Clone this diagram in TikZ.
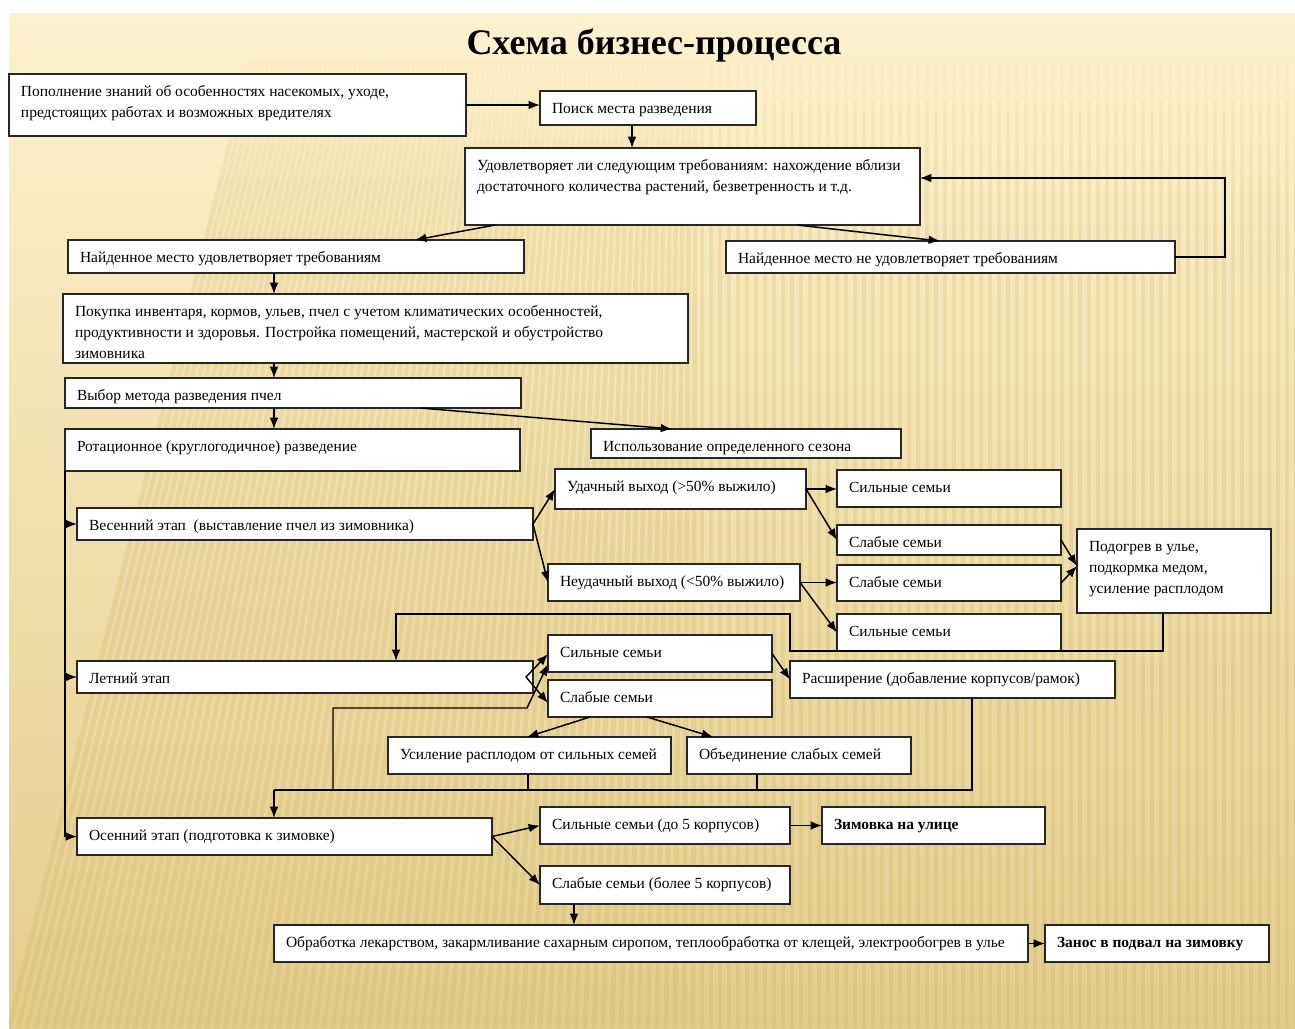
\documentclass[tikz,border=0pt]{standalone}
\usepackage{fontspec}
\setmainfont{Liberation Serif}
\usetikzlibrary{calc,arrows.meta,shadows}

\definecolor{slidetop}{HTML}{FDF2CE}
\definecolor{slidemid}{HTML}{F3E2A8}
\definecolor{slidebot}{HTML}{E3CD8C}
\definecolor{stripecol}{HTML}{C9A94E}

\tikzset{
  box/.style={draw=black!85, line width=1.2pt, fill=white, anchor=north west,
    inner xsep=9pt, inner ysep=5.5pt, outer sep=0pt,
    drop shadow={shadow xshift=1pt, shadow yshift=-1pt, opacity=0.3},
    font=\fontsize{11.6}{16}\selectfont},
  arr/.style={line width=1.1pt, -{Latex[length=8.5pt,width=6.5pt]}},
  wire/.style={line width=1.1pt},
  stripe/.style={line width=3.5pt, stripecol},
  boldtext/.style={font=\fontsize{11.6}{16}\selectfont\bfseries}
}

% \flowbox[style]{name}{x1}{y1}{x2}{y2}{text}: a box given by its corners in px
\newcommand\flowbox[7][]{%
  \pgfmathsetlengthmacro\fbw{(#5-#3)*0.75pt-18pt}%
  \pgfmathsetlengthmacro\fbh{(#6-#4)*0.75pt-11pt}%
  \node[box,#1] (#2) at (#3,#4) {\parbox[c][\fbh][t]{\fbw}{\raggedright\strut #7}};%
}

\begin{document}
\begin{tikzpicture}[x=0.75pt,y=-0.75pt]
\useasboundingbox (0,0) rectangle (1295,1028);

% slide background
\fill[white] (0,0) rectangle (1295,1028);
\shade[top color=slidetop, middle color=slidemid, bottom color=slidebot]
  (9,13) rectangle (1295,1028);

% faint stripes, fading in towards the top
\begin{scope}
  \clip (9,60) rectangle (1295,1028);
  \foreach \i in {0,...,160} {
    \pgfmathsetmacro\xb{9+9*\i}
    \pgfmathsetmacro\sl{0.35*max(0,700-\xb)/968}
    \foreach \ya/\yb/\op in {60/100/0.04, 100/140/0.08, 140/180/0.12, 180/220/0.16, 220/1028/0.19} {
      \pgfmathsetmacro\xa{\xb+\sl*(1028-\ya)}
      \pgfmathsetmacro\xc{\xb+\sl*(1028-\yb)}
      \draw[stripe, opacity=\op] (\xa,\ya) -- (\xc,\yb);
    }
  }
\end{scope}

% title
\node[font=\fontsize{27}{32}\selectfont\bfseries] (title) at (654,45) {Схема бизнес-процесса};

% boxes
\flowbox{A}{9}{74}{466}{136}{Пополнение знаний об особенностях насекомых, уходе,\\ предстоящих работах и возможных вредителях}
\flowbox{B}{540}{91}{756}{125}{Поиск места разведения}
\flowbox{C}{465}{148}{920}{225}{Удовлетворяет ли следующим требованиям: нахождение вблизи\\ достаточного количества растений, безветренность и т.д.}
\flowbox{D}{68}{240}{524}{273}{Найденное место удовлетворяет требованиям}
\flowbox{E}{726}{241}{1175}{273}{Найденное место не удовлетворяет требованиям}
\flowbox{F}{63}{294}{688}{363}{Покупка инвентаря, кормов, ульев, пчел с учетом климатических особенностей,\\ продуктивности и здоровья. Постройка помещений, мастерской и обустройство\\ зимовника}
\flowbox{G}{65}{378}{521}{408}{Выбор метода разведения пчел}
\flowbox{H}{65}{429}{520}{471}{Ротационное (круглогодичное) разведение}
\flowbox{I}{591}{429}{901}{458}{Использование определенного сезона}
\flowbox{J}{77}{508}{533}{540}{Весенний этап\ \ (выставление пчел из зимовника)}
\flowbox{K}{555}{469}{806}{509}{Удачный выход (>50\% выжило)}
\flowbox{L}{548}{564}{800}{601}{Неудачный выход (<50\% выжило)}
\flowbox{M}{837}{470}{1061}{507}{Сильные семьи}
\flowbox{N}{837}{525}{1061}{555}{Слабые семьи}
\flowbox{O}{837}{565}{1061}{601}{Слабые семьи}
\flowbox{P}{837}{614}{1061}{651}{Сильные семьи}
\flowbox{Q}{1077}{529}{1271}{613}{Подогрев в улье,\\ подкормка медом,\\ усиление расплодом}
\flowbox{R}{77}{661}{533}{693}{Летний этап}
\flowbox{S}{548}{635}{772}{672}{Сильные семьи}
\flowbox{T}{548}{680}{772}{717}{Слабые семьи}
\flowbox{U}{790}{661}{1115}{698}{Расширение (добавление корпусов/рамок)}
\flowbox{V}{388}{737}{671}{774}{Усиление расплодом от сильных семей}
\flowbox{W}{687}{737}{911}{774}{Объединение слабых семей}
\flowbox{X}{77}{818}{492}{855}{Осенний этап (подготовка к зимовке)}
\flowbox{Y}{540}{807}{790}{844}{Сильные семьи (до 5 корпусов)}
\flowbox[boldtext]{Z}{822}{807}{1045}{844}{Зимовка на улице}
\flowbox{AA}{540}{866}{790}{904}{Слабые семьи (более 5 корпусов)}
\flowbox{AB}{274}{925}{1028}{962}{Обработка лекарством, закармливание сахарным сиропом, теплообработка от клещей, электрообогрев в улье}
\flowbox[boldtext]{AC}{1045}{925}{1269}{962}{Занос в подвал на зимовку}

% search for a site
\draw[arr] (A.east) -- (A.east -| B.west);
\draw[arr] (B.south -| 632,0) -- (C.north -| 632,0);
\draw[arr] (C.south -| 495,0) -- (D.north -| 415,0);
\draw[arr] (C.south -| 797,0) -- (E.north -| 940,0);
\draw[arr] (E.east) -- (E.east -| 1225,0) |- (C.east |- 0,178);

% preparation and method choice
\draw[arr] (D.south -| 274,0) -- (F.north -| 274,0);
\draw[arr] (F.south -| 274,0) -- (G.north -| 274,0);
\draw[arr] (G.south -| 274,0) -- (H.north -| 274,0);
\draw[arr] (G.south -| 420,0) -- (I.north -| 672,0);

% season bus
\draw[wire] (H.south west) -- (H.south west |- X.west);
\draw[arr] (H.south west |- J.west) -- (J.west);
\draw[arr] (H.south west |- R.west) -- (R.west);
\draw[arr] (H.south west |- X.west) -- (X.west);

% spring
\draw[arr] (J.east) -- (K.west);
\draw[arr] (J.east) -- (L.west);
\draw[arr] (K.east) -- (K.east -| M.west);
\draw[arr] (K.east) -- (N.west);
\draw[arr] (L.east) -- (L.east -| O.west);
\draw[arr] (L.east) -- (P.west);
\draw[arr] (N.east) -- (Q.west |- 0,566);
\draw[arr] (O.east) -- (Q.west |- 0,566);
\draw[arr] (Q.south -| 1163,0) -- (1163,651) -- (790,651) -- (790,614)
  -- (396,614) -- (R.north -| 396,0);

% summer
\draw[arr] (R.east -| 526,0) -- (S.west |- 0,654);
\draw[arr] (R.east -| 526,0) -- (T.west |- 0,703);
\draw[arr] (S.east) -- (U.west);
\draw[arr] (T.south -| 590,0) -- (V.north -| 527,0);
\draw[arr] (T.south -| 647,0) -- (W.north -| 713,0);
\draw[wire] (V.south -| 528,0) -- (528,790);
\draw[wire] (W.south -| 757,0) -- (757,790);
\draw[wire] (U.south -| 972,0) -- (972,790) -- (274,790);
\draw[arr] (274,790) -- (X.north -| 274,0);
\draw[arr] (333,790) -- (333,708) -- (527,708) -- (S.west |- 0,664);

% autumn
\draw[arr] (X.east) -- (Y.west);
\draw[arr] (X.east) -- (AA.west);
\draw[arr] (Y.east) -- (Y.east -| Z.west);
\draw[arr] (AA.south -| 574,0) -- (AB.north -| 574,0);
\draw[arr] (AB.east) -- (AB.east -| AC.west);
\end{tikzpicture}
\end{document}
